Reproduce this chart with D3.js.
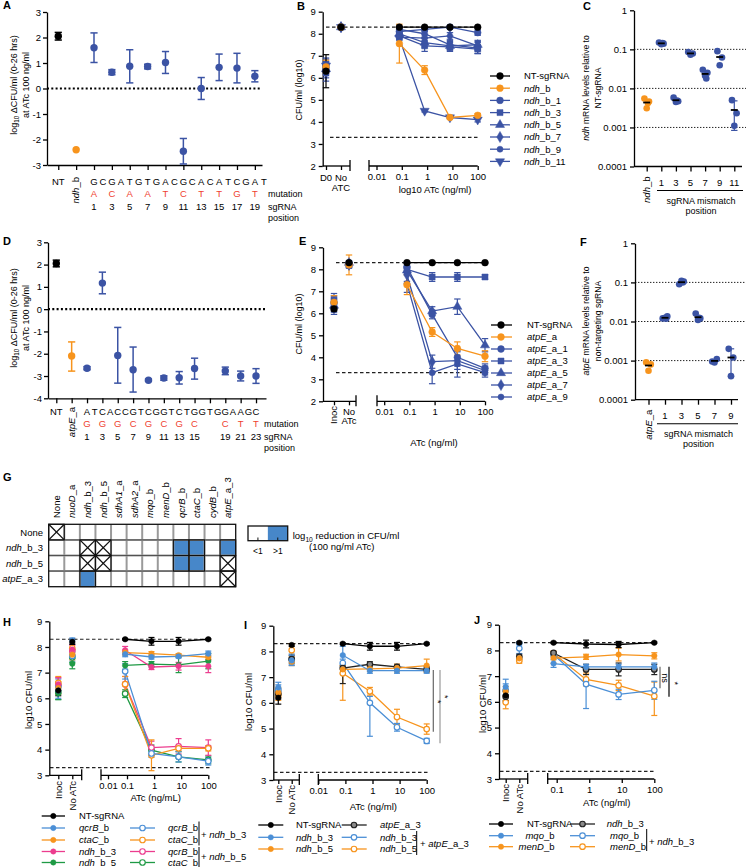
<!DOCTYPE html>
<html><head><meta charset="utf-8">
<script src="https://cdn.jsdelivr.net/npm/d3@7"></script>
<style>body{margin:0;background:#fff}svg{display:block}</style>
</head><body><script>
// ================= DATA =================
// Panel A
const aPositions = [-3, -1, 1, 3, 5, 7, 9, 11, 13, 15, 17, 19];
const aMeans = [2.05, -2.4, 1.6, 0.64, 0.87, 0.86, 1.02, -2.46, 0.0, 0.83, 0.8, 0.48];
const aErrors = [0.15, 0, 0.58, 0.1, 0.65, 0.09, 0.43, 0.5, 0.43, 0.52, 0.58, 0.22];
const aSequence = ["G","C","G","A","T","G","T","G","A","C","G","C","A","C","A","T","C","G","A","T"];
const aMutations = ["A","C","A","A","T","C","T","T","G","T"];
const aPositionLabels = [1,3,5,7,9,11,13,15,17,19];
const aYTicks = [3,2,1,0,-1,-2,-3];
// Panel D
const dPositions = [-3, -1, 1, 3, 5, 7, 9, 11, 13, 15, 19, 21, 23];
const dMeans = [2.05, -2.1, -2.65, 1.17, -2.08, -2.72, -3.19, -3.09, -3.08, -2.66, -2.77, -3.0, -3.0];
const dErrLow = [0.15, 0.68, 0.07, 0.48, 1.24, 1.0, 0.05, 0.1, 0.28, 0.48, 0.17, 0.22, 0.33];
const dErrHigh = [0.15, 0.63, 0.07, 0.49, 1.26, 1.02, 0.05, 0.1, 0.28, 0.46, 0.17, 0.22, 0.33];
const dSequence = ["A","T","C","A","C","C","G","T","C","G","G","T","C","T","G","G","T","G","G","A","A","G","C"];
const dMutations = ["G","G","G","C","G","C","G","C","","C","T","T"];
const dPositionLabels = [1,3,5,7,9,11,13,15,19,21,23];
const dYTicks = [3,2,1,0,-1,-2,-3,-4];
// Panel B
const doses = [0.08, 0.8, 8, 100];
const doseTicks = [0.01, 0.1, 1, 10, 100];
const bNames = ["NT-sgRNA","ndh_b","ndh_b_1","ndh_b_3","ndh_b_5","ndh_b_7","ndh_b_9","ndh_b_11"];
const bStart = [6.3, 6.5, 6.45, 6.6, 6.4, 6.3, 6.2, 6.55];
const bStartErr = [0.75, 0.3, 0.3, 0.3, 0.3, 0.3, 0.35, 0.3];
const bNoATc = [8.3, 8.3, 8.3, 8.3, 8.3, 8.3, 8.3, 8.3];
const bNoATcErr = [0.03, 0.03, 0.03, 0.03, 0.03, 0.03, 0.03, 0.03];
const bValues = [
  [8.3, 8.3, 8.3, 8.3],
  [7.55, 6.35, 4.2, 4.3],
  [8.1, 8.2, 8.3, 8.05],
  [7.9, 7.45, 7.4, 7.3],
  [8.0, 7.6, 7.45, 7.5],
  [7.85, 7.8, 7.9, 7.45],
  [8.2, 8.0, 7.5, 7.35],
  [7.8, 4.5, 4.2, 4.1]
];
const bErrors = [
  [0.03, 0.03, 0.03, 0.03],
  [0.88, 0.2, 0.05, 0.08],
  [0.1, 0.1, 0.05, 0.12],
  [0.15, 0.25, 0.2, 0.2],
  [0.15, 0.2, 0.2, 0.2],
  [0.1, 0.15, 0.15, 0.2],
  [0.1, 0.15, 0.2, 0.25],
  [0.1, 0.05, 0.05, 0.1]
];
// Panel E
const eNames = ["NT-sgRNA","atpE_a","atpE_a_1","atpE_a_3","atpE_a_5","atpE_a_7","atpE_a_9"];
const eStart = [6.2, 6.5, 6.45, 6.6, 6.35, 6.5, 6.25];
const eStartErr = [0.1, 0.3, 0.3, 0.3, 0.3, 0.3, 0.3];
const eNoATc = [8.3, 8.2, 8.25, 8.2, 8.3, 8.2, 8.15];
const eNoATcErr = [0.03, 0.45, 0.1, 0.1, 0.1, 0.1, 0.1];
const eValues = [
  [8.3, 8.3, 8.3, 8.3],
  [7.3, 5.15, 4.4, 4.05],
  [8.1, 5.95, 4.0, 3.5],
  [8.0, 7.65, 7.65, 7.65],
  [7.95, 6.1, 6.3, 4.55],
  [7.75, 3.8, 3.85, 3.4],
  [7.35, 3.3, 3.7, 3.3]
];
const eErrors = [
  [0.03, 0.03, 0.03, 0.03],
  [0.45, 0.2, 0.3, 0.25],
  [0.2, 0.2, 0.4, 0.2],
  [0.15, 0.2, 0.2, 0.1],
  [0.15, 0.2, 0.35, 0.3],
  [0.3, 0.3, 0.4, 0.2],
  [0.4, 0.5, 0.6, 0.2]
];
// Panel C
const cCategories = ["ndh_b","1","3","5","7","9","11"];
const cReplicates = [
  [0.0055, 0.0046, 0.0031, 0.0042],
  [0.15, 0.14, 0.135, 0.145],
  [0.0058, 0.0047, 0.0045, 0.0049],
  [0.085, 0.078, 0.073],
  [0.03, 0.025, 0.021, 0.018],
  [0.09, 0.062, 0.039],
  [0.005, 0.0023, 0.0011]
];
const cShowSD = [false,false,false,false,false,false,true];
// Panel F
const fCategories = ["atpE_a","1","3","5","7","9"];
const fReplicates = [
  [0.0009, 0.0008, 0.00055],
  [0.012, 0.0135, 0.0125, 0.0118],
  [0.09, 0.105, 0.11, 0.1],
  [0.016, 0.012, 0.011, 0.0125],
  [0.00095, 0.0011, 0.0009],
  [0.002, 0.0012, 0.0004]
];
const fShowSD = [false,false,false,false,false,true];
const logTicks = [1, 0.1, 0.01, 0.001, 0.0001];
const logTickLabels = ["1","0.1","0.01","0.001","0.0001"];
// Panel G
const gRows = ["None","ndh_b_3","ndh_b_5","atpE_a_3"];
const gCols = ["None","nuoD_a","ndh_b_3","ndh_b_5","sdhA1_a","sdhA2_a","mqo_b","menD_b","qcrB_b","ctaC_b","cydB_b","atpE_a_3"];
// 0: <1 log10 reduction, 1: >1 log10 reduction, -1: not tested (X)
const gMatrix = [
  [-1,0,0,0,0,0,0,0,0,0,0,0],
  [0,0,-1,-1,0,0,0,0,1,1,0,1],
  [0,0,-1,-1,0,0,0,0,1,1,0,-1],
  [0,0,1,0,0,0,0,0,0,0,0,-1]
];
// Panel H
const hNames = ["NT-sgRNA","qcrB_b","ctaC_b","ndh_b_3","ndh_b_5","qcrB_b","ctaC_b","qcrB_b","ctaC_b"];
const hStart = [6.3, 6.3, 6.4, 6.55, 6.2, 6.45, 6.6, 6.5, 6.25];
const hStartErr = [0.2, 0.3, 0.25, 0.25, 0.25, 0.3, 0.25, 0.3, 0.3];
const hNoATc = [8.2, 8.25, 7.7, 7.9, 7.35, 7.65, 7.95, 7.85, 7.6];
const hNoATcErr = [0.1, 0.1, 0.2, 0.2, 0.2, 0.2, 0.2, 0.2, 0.2];
const hValues = [
  [8.3, 8.22, 8.22, 8.3],
  [7.72, 7.61, 7.63, 7.74],
  [7.78, 7.74, 7.68, 7.6],
  [7.87, 7.22, 7.25, 7.25],
  [7.28, 7.33, 7.3, 7.45],
  [7.05, 3.85, 3.72, 3.55],
  [6.55, 3.78, 4.05, 4.05],
  [6.55, 4.08, 4.13, 4.08],
  [6.18, 3.98, 3.72, 3.6]
];
const hErrors = [
  [0.03, 0.15, 0.15, 0.03],
  [0.1, 0.08, 0.06, 0.1],
  [0.1, 0.08, 0.06, 0.08],
  [0.15, 0.1, 0.15, 0.25],
  [0.15, 0.1, 0.3, 0.3],
  [0.3, 0.15, 0.2, 0.15],
  [0.3, 0.6, 0.1, 0.1],
  [0.3, 0.25, 0.3, 0.3],
  [0.15, 0.2, 0.2, 0.15]
];
// Panel I
const iNames = ["NT-sgRNA","ndh_b_3","ndh_b_5","atpE_a_3","ndh_b_3","ndh_b_5"];
const iStart = [6.2, 6.6, 6.4, 6.35, 6.5, 6.3];
const iStartErr = [0.25, 0.2, 0.2, 0.2, 0.2, 0.2];
const iNoATc = [8.25, 7.65, 7.6, 7.7, 7.7, 8.05];
const iNoATcErr = [0.05, 0.2, 0.15, 0.15, 0.2, 0.25];
const iValues = [
  [8.3, 8.2, 8.2, 8.3],
  [7.85, 7.25, 7.25, 7.25],
  [7.3, 7.32, 7.35, 7.45],
  [7.35, 7.5, 7.4, 7.3],
  [7.55, 6.0, 5.05, 4.52],
  [7.15, 6.45, 5.45, 4.98]
];
const iErrors = [
  [0.03, 0.15, 0.15, 0.03],
  [0.35, 0.1, 0.1, 0.1],
  [0.15, 0.1, 0.15, 0.25],
  [[0.6,0.1], 0.1, 0.1, 0.1],
  [0.15, [1.3,0.25], 0.15, 0.1],
  [[1.05,0.3], 0.15, 0.3, 0.2]
];
// Panel J
const jNames = ["NT-sgRNA","mqo_b","menD_b","ndh_b_3","mqo_b","menD_b"];
const jStart = [6.25, 6.58, 6.4, 6.2, 6.45, 5.98];
const jStartErr = [0.2, 0.3, 0.2, 0.2, 0.25, 0.25];
const jNoATc = [8.3, 8.27, 7.69, 7.75, 8.08, 7.6];
const jNoATcErr = [0.03, 0.05, 0.1, 0.1, 0.2, 0.1];
const jValues = [
  [8.3, 8.25, 8.23, 8.3],
  [7.49, 7.36, 7.36, 7.36],
  [7.7, 7.75, 7.84, 7.79],
  [7.9, 7.26, 7.26, 7.26],
  [7.84, 6.69, 6.29, 6.45],
  [7.88, 6.87, 6.64, 6.22]
];
const jErrors = [
  [0.03, 0.15, 0.12, 0.03],
  [0.15, 0.1, 0.1, 0.15],
  [0.2, 0.1, 0.25, 0.12],
  [0.05, 0.2, 0.25, 0.2],
  [0.1, [0.95,0.1], 0.2, 0.35],
  [0.1, 0.25, 0.2, [0.75,0.55]]
];

// ================= STYLES =================
const ORANGE="#f7941d", NAVY="#3b53a4", SKY="#4b8fd6", PINK="#ec3c8e", GREEN="#1f9a45", RED="#ef4130", HEAT="#4787c9", BLACK="#000";
const FONT='"Liberation Sans", Arial, Helvetica, sans-serif';
const intFmt = d => String(d);

const svg = d3.select("body").append("svg").attr("width",748).attr("height",867)
  .style("font-family",FONT);

function styleAxis(sel){
  sel.attr("font-family",null).attr("font-size",null);
  sel.select(".domain").attr("stroke","#000").attr("stroke-width",1.3);
  sel.selectAll(".tick line").attr("stroke","#000").attr("stroke-width",1.3);
  sel.selectAll(".tick text").attr("font-size",9.5).attr("fill","#000");
}
function geneText(t, s){
  if (s.startsWith("+ ")) { t.append("tspan").text("+ "); s = s.slice(2); }
  if (s==="NT-sgRNA"||s==="None"||s==="NT"||!/[A-Za-z]/.test(s)) { t.append("tspan").text(s); return; }
  const i = s.indexOf("_");
  if (i<0) { t.append("tspan").attr("font-style","italic").text(s); return; }
  t.append("tspan").attr("font-style","italic").text(s.slice(0,i));
  t.append("tspan").text(s.slice(i));
}
function T(g,x,y,s,o={}){
  const t=g.append("text").attr("x",x).attr("y",y).attr("font-size",o.size||9.5)
    .attr("fill",o.fill||"#000").attr("text-anchor",o.anchor||"start");
  if(o.weight) t.attr("font-weight",o.weight);
  if(o.rotate) t.attr("transform",`rotate(${o.rotate},${x},${y})`);
  if(o.gene) geneText(t,s); else t.text(s);
  return t;
}
function L(g,x1,y1,x2,y2,color="#000",w=1.3,dash=null){
  const l=g.append("line").attr("x1",x1).attr("y1",y1).attr("x2",x2).attr("y2",y2)
    .attr("stroke",color).attr("stroke-width",w);
  if(dash) l.attr("stroke-dasharray",dash);
  return l;
}
function errorBar(g,cx,m,e,y,color,cap=3.2,w=1.2){
  const [lo,hi]=Array.isArray(e)?e:[e,e];
  if(lo<=0&&hi<=0) return;
  const y1=y(m-lo), y2=y(m+hi);
  L(g,cx,y1,cx,y2,color,w);
  if(lo>0) L(g,cx-cap,y1,cx+cap,y1,color,w);
  if(hi>0) L(g,cx-cap,y2,cx+cap,y2,color,w);
}
const symTypes={circle:d3.symbolCircle,square:d3.symbolSquare,triangle:d3.symbolTriangle,diamond:d3.symbolDiamond,triDown:d3.symbolTriangle,hex:d3.symbolCircle};
function marker(g,cx,cy,sym,color,size,open=false,openFill="#fff"){
  const p=d3.symbol().type(symTypes[sym]).size(sym==="hex"?size*0.8:size)();
  g.append("path").attr("d",p)
    .attr("transform",`translate(${cx},${cy})${sym==="triDown"?" rotate(180)":""}`)
    .attr("fill",open?openFill:color).attr("stroke",color).attr("stroke-width",open?1.2:0.5);
}
function panelLetter(x,y,s){ T(svg,x,y,s,{size:11,weight:"bold"}); }
function subLabel(g,x,y,pre,sub,post,o={}){
  const t=g.append("text").attr("x",x).attr("y",y).attr("font-size",o.size||9).attr("text-anchor",o.anchor||"middle");
  if(o.rotate) t.attr("transform",`rotate(${o.rotate},${x},${y})`);
  t.append("tspan").text(pre);
  t.append("tspan").attr("font-size",(o.size||9)*0.7).attr("dy",2.5).text(sub);
  t.append("tspan").attr("dy",-2.5).text(post);
  return t;
}

// ============== Panels A & D (mismatch dot plots) ==============
function mutPanel(o){
  const g=svg.append("g");
  const x=d3.scaleLinear().domain(o.xDom).range(o.xRange);
  const y=d3.scaleLinear().domain(o.yDom).range(o.yRange);
  const yb=o.yRange[0];
  L(g,o.xRange[0],y(0),o.xRange[1],y(0),"#000",2.2,"2,2.3");
  g.append("g").attr("transform",`translate(${o.xRange[0]},0)`)
    .call(d3.axisLeft(y).tickValues(o.yTicks).tickFormat(intFmt).tickSize(4).tickSizeOuter(0).tickPadding(2)).call(styleAxis);
  g.append("g").attr("transform",`translate(0,${yb})`)
    .call(d3.axisBottom(x).tickValues(o.tickPos).tickSize(5).tickSizeOuter(0).tickFormat("")).call(styleAxis);
  o.pos.forEach((p,i)=>{
    const c=i===0?BLACK:(i===1?ORANGE:NAVY);
    errorBar(g,x(p),o.means[i],[o.errLo[i],o.errHi[i]],y,c,3.6,1.5);
    g.append("circle").attr("cx",x(p)).attr("cy",y(o.means[i])).attr("r",3.7).attr("fill",c);
  });
  o.seq.forEach((s,i)=>T(g,x(i+1),o.seqY,s,{anchor:"middle",size:9.5}));
  o.mut.forEach((s,i)=>{ if(s) T(g,x(1+2*i),o.seqY+11.7,s,{anchor:"middle",fill:RED,size:9.5}); });
  o.posLabels.forEach(p=>T(g,x(p),o.seqY+25,String(p),{anchor:"middle",size:9.5}));
  T(g,x(-3),o.seqY,"NT",{anchor:"middle"});
  T(g,x(-1)+3.3,o.seqY-8,o.ctrl,{anchor:"end",rotate:-90,gene:true});
  T(g,o.mutX,o.seqY+11.7,"mutation",{size:9});
  T(g,o.mutX,o.seqY+25,"sgRNA",{size:9});
  T(g,o.mutX,o.seqY+35.5,"position",{size:9});
  const cy=o.titleY;
  subLabel(g,16.5,cy,"log","10"," \u0394CFU/ml (0-26 hrs)",{rotate:-90,size:9});
  T(g,28.5,cy,"at ATc 100 ng/ml",{rotate:-90,anchor:"middle",size:9});
}
mutPanel({xDom:[-4.26,19.8],xRange:[47,262],yDom:[-3,3],yRange:[165,12],yTicks:aYTicks,
  tickPos:[-3,-1,...aPositionLabels],pos:aPositions,means:aMeans,errLo:aErrors,errHi:aErrors,
  seq:aSequence,mut:aMutations,posLabels:aPositionLabels,seqY:185,ctrl:"ndh_b",mutX:268,titleY:85});
mutPanel({xDom:[-4.08,24.3],xRange:[48,266],yDom:[-4,3],yRange:[398.3,242.3],yTicks:dYTicks,
  tickPos:[-3,-1,1,3,5,7,9,11,13,15,17,19,21,23],pos:dPositions,means:dMeans,errLo:dErrLow,errHi:dErrHigh,
  seq:dSequence,mut:dMutations,posLabels:dPositionLabels,seqY:415,ctrl:"atpE_a",mutX:264,titleY:318});

// ============== Curve panels (B, E, H, I, J) ==============
function curvePanel(o){
  const g=svg.append("g");
  const y=d3.scaleLinear().domain(o.yDom).range(o.yRange);
  const yb=o.yRange[0];
  const xc=d3.scalePoint().domain(["start","noatc"]).range(o.catX);
  const xl=d3.scaleLog().domain(o.logDom).range(o.logRange);
  const xEnd=o.logRange[o.logRange.length-1];
  o.dashes.forEach(d=>L(g,d[1],y(d[0]),d[2],y(d[0]),"#222",1.2,"3.5,2.5"));
  g.append("g").attr("transform",`translate(${o.axisX},0)`)
    .call(d3.axisLeft(y).tickValues(o.yTicks).tickFormat(intFmt).tickSize(4).tickSizeOuter(0).tickPadding(3)).call(styleAxis);
  const a1=g.append("g").attr("transform",`translate(0,${yb})`)
    .call(d3.axisBottom(xc).tickSize(4).tickSizeOuter(0).tickFormat("")).call(styleAxis);
  a1.select(".domain").remove();
  L(g,o.axisX,yb,o.seg1End,yb);
  const a2=g.append("g").attr("transform",`translate(0,${yb})`)
    .call(d3.axisBottom(xl).tickValues(o.xTicks).tickFormat(d=>String(d)).tickSize(4).tickSizeOuter(0).tickPadding(3)).call(styleAxis);
  a2.select(".domain").remove();
  L(g,o.seg2Start,yb,xEnd,yb);
  [o.seg1End,o.seg2Start].forEach(xx=>L(g,xx,yb-6,xx,yb+5));
  const S=o.series;
  const line=d3.line().x((d,i)=>xl(o.doses[i])).y(d=>y(d));
  for(let k=S.length-1;k>=0;k--){
    const s=S[k];
    g.append("path").attr("d",line(s.vals)).attr("fill","none").attr("stroke",s.color).attr("stroke-width",1.3);
  }
  for(let k=S.length-1;k>=0;k--){
    const s=S[k];
    errorBar(g,xc("start"),s.start,s.startErr,y,s.color,o.cap,1.2);
    errorBar(g,xc("noatc"),s.no,s.noErr,y,s.color,o.cap,1.2);
    s.vals.forEach((v,i)=>errorBar(g,xl(o.doses[i]),v,s.errs[i],y,s.color,o.cap,1.2));
  }
  for(let k=S.length-1;k>=0;k--){
    const s=S[k];
    marker(g,xc("start"),y(s.start),s.sym,s.color,o.msize,s.open,s.openFill);
    marker(g,xc("noatc"),y(s.no),s.sym,s.color,o.msize,s.open,s.openFill);
    s.vals.forEach((v,i)=>marker(g,xl(o.doses[i]),y(v),s.sym,s.color,o.msize,s.open,s.openFill));
  }
  o.catLabels(g,xc);
  T(g,o.xTitle[0],o.xTitle[1],o.xTitle[2],{anchor:"middle",size:9.5});
  o.yTitle(g);
  return {g,y,xl,xc};
}
function buildSeries(names,colors,syms,opens,start,startErr,no,noErr,vals,errs,openFills){
  return names.map((n,i)=>({name:n,color:colors[i],sym:syms[i],open:opens[i],openFill:(openFills&&openFills[i])||"#fff",
    start:start[i],startErr:startErr[i],no:no[i],noErr:noErr[i],vals:vals[i],errs:errs[i]}));
}
function legend(g,items){
  items.forEach(it=>{
    L(g,it.x1,it.y,it.x2,it.y,it.color,1.3);
    marker(g,it.mx,it.y,it.sym,it.color,it.size,it.open,it.openFill||"#fff");
    if(it.label) T(g,it.tx,it.y+3.4,it.label,{gene:true,anchor:it.anchor||"start",size:9.5});
  });
}

// ---- B ----
const bColors=[BLACK,ORANGE,NAVY,NAVY,NAVY,NAVY,NAVY,NAVY];
const bSyms=["circle","circle","circle","square","triangle","diamond","hex","triDown"];
const bS=buildSeries(bNames,bColors,bSyms,bNames.map(()=>false),bStart,bStartErr,bNoATc,bNoATcErr,bValues,bErrors);
curvePanel({yDom:[2,9],yRange:[166,11.7],yTicks:[2,3,4,5,6,7,8,9],axisX:322.7,catX:[326,341],seg1End:350,
  seg2Start:369,logDom:[0.01,100],logRange:[376.5,477.7],xTicks:doseTicks,doses:doses,
  dashes:[[8.3,326,478],[3.3,330,478]],series:bS,cap:3.2,msize:36,
  catLabels:(g)=>{T(g,326,181,"D0",{anchor:"middle"});T(g,341,181,"No",{anchor:"middle"});T(g,341,190.7,"ATC",{anchor:"middle"});},
  xTitle:[435,192.5,"log10 ATc (ng/ml)"],
  yTitle:(g)=>T(g,301.5,90,"CFU/ml (log10)",{rotate:-90,anchor:"middle",size:9})});
legend(svg,bS.map((s,i)=>({x1:490,x2:510,mx:500,y:76+12.2*i,color:s.color,sym:s.sym,size:36,open:false,tx:524,label:s.name})));

// ---- E ----
const eColors=[BLACK,ORANGE,NAVY,NAVY,NAVY,NAVY,NAVY];
const eSyms=["circle","circle","circle","square","triangle","diamond","hex"];
const eS=buildSeries(eNames,eColors,eSyms,eNames.map(()=>false),eStart,eStartErr,eNoATc,eNoATcErr,eValues,eErrors);
curvePanel({yDom:[2,9],yRange:[401.3,247.3],yTicks:[2,3,4,5,6,7,8,9],axisX:323,catX:[334,349],seg1End:356,
  seg2Start:377,logDom:[0.01,100],logRange:[384.2,485],xTicks:doseTicks,doses:doses,
  dashes:[[8.3,336,485],[3.3,336,485]],series:eS,cap:3.2,msize:36,
  catLabels:(g)=>{T(g,337.3,406,"Inoc",{anchor:"end",rotate:-90});T(g,349,414.5,"No",{anchor:"middle"});T(g,349,424,"ATc",{anchor:"middle"});},
  xTitle:[434,446,"ATc (ng/ml)"],
  yTitle:(g)=>T(g,301.5,324,"CFU/ml (log10)",{rotate:-90,anchor:"middle",size:9})});
legend(svg,eS.map((s,i)=>({x1:491,x2:512,mx:501,y:325+12*i,color:s.color,sym:s.sym,size:36,open:false,tx:527,label:s.name})));

// ============== Panels C & F (mRNA) ==============
function mrnaPanel(o){
  const g=svg.append("g");
  const y=d3.scaleLog().domain([1e-4,1]).range([o.yb,o.yt]);
  const x=d3.scalePoint().domain(o.cats).range(o.xr);
  [0.1,0.01,0.001].forEach(v=>L(g,o.axisX,y(v),o.gridEnd,y(v),"#222",1,"1.4,1.6"));
  g.append("g").attr("transform",`translate(${o.axisX},0)`)
    .call(d3.axisLeft(y).tickValues(logTicks).tickFormat((d,i)=>logTickLabels[i]).tickSize(4).tickSizeOuter(0).tickPadding(3)).call(styleAxis);
  const ax=g.append("g").attr("transform",`translate(0,${o.yb})`)
    .call(d3.axisBottom(x).tickSize(5).tickSizeOuter(0).tickFormat("")).call(styleAxis);
  ax.select(".domain").remove();
  L(g,o.axisX,o.yb,o.xEnd,o.yb);
  o.cats.forEach((c,i)=>{
    if(i===0) T(g,x(c)+3.3,o.yb+10,c,{anchor:"end",rotate:-90,gene:true});
    else T(g,x(c),o.yb+19.5,c,{anchor:"middle"});
  });
  L(g,o.ulX[0],o.yb+24,o.ulX[1],o.yb+24,"#000",1.1);
  T(g,(o.ulX[0]+o.ulX[1])/2+1,o.yb+37.5,"sgRNA mismatch",{anchor:"middle",size:9});
  T(g,(o.ulX[0]+o.ulX[1])/2+1,o.yb+47,"position",{anchor:"middle",size:9});
  const jit=[-2.3,2.3,0,1.2];
  o.reps.forEach((r,i)=>{
    const col=i===0?ORANGE:NAVY, cx=x(o.cats[i]);
    const m=d3.mean(r);
    if(o.sd[i]){ const sd=d3.deviation(r); errorBar(g,cx,m,[Math.min(sd,m*0.7),sd],y,col,3.2,1.2); }
    r.forEach((v,j)=>g.append("circle").attr("cx",cx+jit[j]).attr("cy",y(v)).attr("r",3.3).attr("fill",col));
    L(g,cx-3.5,y(m),cx+3.5,y(m),"#000",1.8);
  });
  o.yTitle(g);
}
mrnaPanel({axisX:634,yb:166.5,yt:10.3,cats:cCategories,xr:[646.7,734.3],reps:cReplicates,sd:cShowSD,
  gridEnd:746,xEnd:742,ulX:[657,743],
  yTitle:(g)=>{const t=T(g,588.5,88,"",{rotate:-90,anchor:"middle",size:8.6}); geneText(t,"ndh");
    t.append("tspan").text(" mRNA levels relative to"); T(g,600.5,88,"NT-sgRNA",{rotate:-90,anchor:"middle",size:8.6});}});
mrnaPanel({axisX:635,yb:399.7,yt:243.3,cats:fCategories,xr:[648.5,731],reps:fReplicates,sd:fShowSD,
  gridEnd:746,xEnd:738,ulX:[657,738],
  yTitle:(g)=>{const t=T(g,588.5,321,"",{rotate:-90,anchor:"middle",size:8.6}); geneText(t,"atpE");
    t.append("tspan").text(" mRNA levels relative to"); T(g,600.5,321,"non-targeting sgRNA",{rotate:-90,anchor:"middle",size:8.6});}});

// ============== Panel G (heatmap) ==============
(function(){
  const g=svg.append("g");
  const x=d3.scaleBand().domain(gCols).range([48.7,235.7]);
  const y=d3.scaleBand().domain(gRows).range([524.3,586.7]);
  gMatrix.forEach((row,ri)=>row.forEach((v,ci)=>{
    g.append("rect").attr("x",x(gCols[ci])).attr("y",y(gRows[ri])).attr("width",x.bandwidth()).attr("height",y.bandwidth())
      .attr("fill",v===1?HEAT:"#fff");
  }));
  gCols.forEach((c,i)=>{ if(i>0) L(g,x(c),524.3,x(c),586.7,"#9a9a9a",2); });
  gRows.forEach((r,i)=>{ if(i>0){ L(g,48.7,y(r),235.7,y(r),"#9a9a9a",2); L(g,48.7,y(r),235.7,y(r),"#333",0.7);} });
  gMatrix.forEach((row,ri)=>row.forEach((v,ci)=>{
    const x0=x(gCols[ci]),y0=y(gRows[ri]),w=x.bandwidth(),h=y.bandwidth();
    if(v!==0) g.append("rect").attr("x",x0).attr("y",y0).attr("width",w).attr("height",h).attr("fill","none").attr("stroke","#111").attr("stroke-width",1.1);
    if(v===-1){ L(g,x0,y0,x0+w,y0+h,"#111",1.3); L(g,x0+w,y0,x0,y0+h,"#111",1.3); }
  }));
  g.append("rect").attr("x",48.7).attr("y",524.3).attr("width",187).attr("height",62.4).attr("fill","none").attr("stroke","#111").attr("stroke-width",1.3);
  gCols.forEach(c=>T(g,x(c)+x.bandwidth()/2+3.4,518,c,{rotate:-90,gene:true}));
  gRows.forEach(r=>T(g,43,y(r)+y.bandwidth()/2+3.4,r,{anchor:"end",gene:true}));
  // legend
  const lx=d3.scaleBand().domain(["<1",">1"]).range([248,287.7]);
  ["<1",">1"].forEach((k,i)=>{
    g.append("rect").attr("x",lx(k)).attr("y",526).attr("width",lx.bandwidth()).attr("height",14.7).attr("fill",i?HEAT:"#fff");
    L(g,lx(k)+lx.bandwidth()/2,540.7,lx(k)+lx.bandwidth()/2,537.5,"#111",1);
    T(g,lx(k)+lx.bandwidth()/2,553.5,k,{anchor:"middle",size:8.5});
  });
  g.append("rect").attr("x",248).attr("y",526).attr("width",39.7).attr("height",14.7).attr("fill","none").attr("stroke","#111").attr("stroke-width",1.3);
  subLabel(g,292.7,539,"log","10"," reduction in CFU/ml",{anchor:"start",size:9.5});
  T(g,341.7,550,"(100 ng/ml ATc)",{anchor:"middle",size:9.5});
})();

// ---- H ----
const hColors=[BLACK,SKY,ORANGE,PINK,GREEN,SKY,ORANGE,PINK,GREEN];
const hOpen=[false,false,false,false,false,true,true,true,true];
const hS=buildSeries(hNames,hColors,hNames.map(()=>"circle"),hOpen,hStart,hStartErr,hNoATc,hNoATcErr,hValues,hErrors);
curvePanel({yDom:[3,9],yRange:[775.3,621.3],yTicks:[3,4,5,6,7,8,9],axisX:49.3,catX:[58.3,72.3],seg1End:81.7,
  seg2Start:101,logDom:[0.01,0.1,100],logRange:[108,127,208.3],xTicks:doseTicks,doses:doses,
  dashes:[[8.3,50,210],[3.3,50,210]],series:hS,cap:3,msize:24,
  catLabels:(g)=>{T(g,61.6,781,"Inoc",{anchor:"end",rotate:-90});T(g,75.6,781,"No ATc",{anchor:"end",rotate:-90});},
  xTitle:[155.7,800.7,"ATc (ng/mL)"],
  yTitle:(g)=>T(g,31.5,700,"log10 CFU/ml",{rotate:-90,anchor:"middle",size:9.5})});
(function(){
  const rows=[816,828,840,851.5,862.5];
  legend(svg,hS.slice(0,5).map((s,i)=>({x1:41.7,x2:65,mx:53.3,y:rows[i],color:s.color,sym:"circle",size:22,open:false,tx:79,label:s.name})));
  legend(svg,hS.slice(5).map((s,i)=>({x1:130,x2:155,mx:142.5,y:rows[i+1],color:s.color,sym:"circle",size:24,open:true,tx:168,label:s.name})));
  L(svg,199,821.5,199,845.5,"#000",1); L(svg,199,847,199,867,"#000",1);
  T(svg,201,837.5,"+ ndh_b_3",{gene:true}); T(svg,201,859.5,"+ ndh_b_5",{gene:true});
})();

// ---- I ----
const iColors=[BLACK,SKY,ORANGE,"#222",SKY,ORANGE];
const iOpen=[false,false,false,true,true,true];
const iFills=[null,null,null,"#8a8a8a",null,null];
const iS=buildSeries(iNames,iColors,iNames.map(()=>"circle"),iOpen,iStart,iStartErr,iNoATc,iNoATcErr,iValues,iErrors,iFills);
curvePanel({yDom:[3,9],yRange:[780,625.7],yTicks:[3,4,5,6,7,8,9],axisX:273.3,catX:[278.3,291.7],seg1End:299.3,
  seg2Start:318.3,logDom:[0.01,100],logRange:[318.3,426.7],xTicks:doseTicks,doses:doses,
  dashes:[[8.3,274,430],[3.3,274,428]],series:iS,cap:3,msize:24,
  catLabels:(g)=>{T(g,281.6,785,"Inoc",{anchor:"end",rotate:-90});T(g,295,785,"No ATc",{anchor:"end",rotate:-90});},
  xTitle:[373.3,809.5,"ATc (ng/ml)"],
  yTitle:(g)=>T(g,252,702,"log10 CFU/ml",{rotate:-90,anchor:"middle",size:9.5})});
L(svg,433.3,670,433.3,731.7,"#666",1.2); L(svg,440,670,440,743.3,"#999",1.2);
T(svg,434.5,701.7,"*",{rotate:90,size:9,anchor:"middle"}); T(svg,441.5,696.7,"*",{rotate:90,size:9,anchor:"middle"});
(function(){
  const rows=[825,837.3,849];
  legend(svg,iS.slice(0,3).map((s,i)=>({x1:258.3,x2:283.3,mx:270.8,y:rows[i],color:s.color,sym:"circle",size:22,open:false,tx:296,label:s.name})));
  legend(svg,iS.slice(3).map((s,i)=>({x1:341.7,x2:366.7,mx:354,y:rows[i],color:s.color,sym:"circle",size:24,open:true,openFill:s.openFill,tx:380,label:s.name})));
  L(svg,416.7,831,416.7,855,"#000",1);
  T(svg,420,846.7,"+ atpE_a_3",{gene:true});
})();

// ---- J ----
const jColors=[BLACK,SKY,ORANGE,"#222",SKY,ORANGE];
const jOpen=[false,false,false,true,true,true];
const jFills=[null,null,null,"#8a8a8a",null,null];
const jS=buildSeries(jNames,jColors,jNames.map(()=>"circle"),jOpen,jStart,jStartErr,jNoATc,jNoATcErr,jValues,jErrors,jFills);
curvePanel({yDom:[3,9],yRange:[779,624.7],yTicks:[3,4,5,6,7,8,9],axisX:499,catX:[505.7,519.3],seg1End:527.7,
  seg2Start:547.7,logDom:[0.1,100],logRange:[556.7,654.3],xTicks:[0.1,1,10,100],doses:doses,
  dashes:[[8.3,500,656],[3.3,500,655]],series:jS,cap:3,msize:24,
  catLabels:(g)=>{T(g,509,784,"Inoc",{anchor:"end",rotate:-90});T(g,522.6,784,"No ATc",{anchor:"end",rotate:-90});},
  xTitle:[606.7,806,"ATc (ng/ml)"],
  yTitle:(g)=>T(g,485.5,704,"log10 CFU/ml",{rotate:-90,anchor:"middle",size:9.5})});
L(svg,660,666.7,660,688.3,"#999",1.8); L(svg,669,666.7,669,696.7,"#000",1.2);
T(svg,661.5,678,"ns",{rotate:90,size:9,anchor:"middle"}); T(svg,672,683.3,"*",{rotate:90,size:9,anchor:"middle"});
(function(){
  const rows=[824,835.7,846.7];
  legend(svg,[{x1:489,x2:513,mx:501,y:rows[0],color:BLACK,sym:"circle",size:22,open:false,tx:527,label:"NT-sgRNA"},
    {x1:489,x2:513,mx:501,y:rows[1],color:SKY,sym:"circle",size:22,open:false,tx:554.5,anchor:"end",label:"mqo_b"},
    {x1:489,x2:513,mx:501,y:rows[2],color:ORANGE,sym:"circle",size:22,open:false,tx:554.5,anchor:"end",label:"menD_b"}]);
  legend(svg,jS.slice(3).map((s,i)=>({x1:570,x2:595,mx:582.5,y:rows[i],color:s.color,sym:"circle",size:24,open:true,openFill:s.openFill,tx:i===0?606.7:610,label:s.name})));
  L(svg,646.7,829,646.7,851,"#000",1);
  T(svg,649,845,"+ ndh_b_3",{gene:true});
})();

// ================= Panel letters =================
panelLetter(3,9,"A"); panelLetter(297,9.5,"B"); panelLetter(583,9.5,"C");
panelLetter(3,245,"D"); panelLetter(299,245,"E"); panelLetter(580,246,"F");
panelLetter(3,481,"G"); panelLetter(3,626,"H"); panelLetter(244,628.5,"I"); panelLetter(474,624,"J");
</script></body></html>
